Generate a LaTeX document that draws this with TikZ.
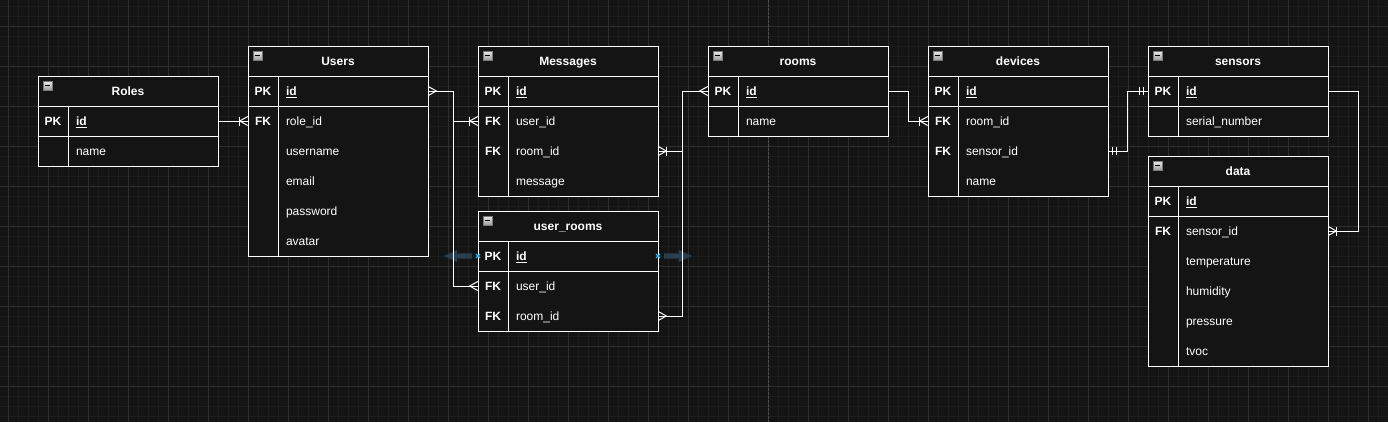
\documentclass[tikz,border=0pt]{standalone}
\usepackage{fontspec}
\setmainfont{Liberation Sans}
\definecolor{bgc}{RGB}{20,20,20}
\definecolor{minorc}{RGB}{29,29,29}
\definecolor{majorc}{RGB}{46,46,46}
\definecolor{pagec}{RGB}{78,78,78}
\definecolor{hoverc}{RGB}{38,64,80}
\definecolor{bluex}{RGB}{41,182,242}
\definecolor{iconframe}{RGB}{120,120,120}
\tikzset{
  txt/.style={font=\fontsize{9pt}{11pt}\selectfont, text=white, text height=8.4pt, text depth=1.9pt},
  tblbox/.style={draw=white, fill=bgc, line width=0.75pt, minimum width=135pt, inner sep=0pt},
  tblline/.style={draw=white, line width=0.75pt},
  hdr/.style={txt, font=\fontsize{9pt}{11pt}\selectfont\bfseries, inner sep=0pt},
  keycell/.style={txt, font=\fontsize{9pt}{11pt}\selectfont\bfseries, minimum width=22.5pt, minimum height=22.5pt, inner sep=0pt},
  fieldcell/.style={txt, text width=100.5pt, align=left, inner xsep=6pt, inner ysep=0pt, minimum height=22.5pt},
  pk/.style={font=\fontsize{9pt}{11pt}\selectfont\bfseries},
  plain/.style={},
  minusicon/.style={draw=iconframe, line width=0.6pt, minimum size=6.75pt, inner sep=0pt,
    top color=white!92!black, bottom color=white!62!black,
    path picture={\draw[black, line width=1.1pt] ([xshift=-2.1pt]path picture bounding box.center) -- ([xshift=2.1pt]path picture bounding box.center);}},
  conn/.style={draw=white, line width=0.75pt},
  hover/.style={fill=hoverc, draw=none},
  bx/.style={draw=bluex, line width=0.9pt},
}
% table frame: name, x, y, title, height(px)
\newcommand\ertable[5]{%
  \node[tblbox, minimum height={#5*0.75pt}, anchor=north west] (#1) at (#2,#3) {};
  \draw[tblline] (#2,#3+30) -- ++(180,0);
  \draw[tblline] (#2,#3+60) -- ++(180,0);
  \draw[tblline] (#2+30,#3+30) -- (#2+30,#3+#5);
  \node[hdr] (#1-h) at (#2+90,#3+15) {#4};
  \node[minusicon] (#1-icon) at (#2+9.5,#3+9.5) {};
}
% row: name, x, y(top), key, field, style
\newcommand\errow[6]{%
  \node[keycell] (#1-k) at (#2+15,#3+15) {#4};
  \node[fieldcell,#6] (#1) at (#2+105,#3+15) {#5};
}
% markers: point, direction away from entity (1 or -1)
\newcommand\ermany[2]{\begin{scope}[shift={(#1)},xscale=#2]\draw[conn] (0,-4.5) -- (8,0) -- (0,4.5);\end{scope}}
\newcommand\eronemany[2]{\begin{scope}[shift={(#1)},xscale=#2]\draw[conn] (0,-4.5) -- (8,0) -- (0,4.5);\draw[conn] (8,-4.5) -- (8,4.5);\end{scope}}
\newcommand\ermandone[2]{\begin{scope}[shift={(#1)},xscale=#2]\draw[conn] (4,-4) -- (4,4);\draw[conn] (8,-4) -- (8,4);\end{scope}}
\begin{document}
\begin{tikzpicture}[x=0.75pt,y=-0.75pt]
\useasboundingbox (0,0) rectangle (1388,422);
\fill[bgc] (0,0) rectangle (1388,422);
% grid
\foreach \gx in {8,18,...,1388} \draw[minorc, line width=0.75pt] (\gx,0) -- (\gx,422);
\foreach \gy in {6,16,...,416} \draw[minorc, line width=0.75pt] (0,\gy) -- (1388,\gy);
\foreach \gx in {8,48,...,1388} \draw[majorc, line width=0.75pt] (\gx,0) -- (\gx,422);
\foreach \gy in {26,66,...,416} \draw[majorc, line width=0.75pt] (0,\gy) -- (1388,\gy);
\draw[pagec, line width=0.75pt, dash pattern=on 2.25pt off 0.75pt] (768,0) -- (768,422);
% hover arrows
\fill[hover] (444,256) -- (457,250) -- (457,253.3) -- (472,253.3) -- (472,258.7) -- (457,258.7) -- (457,262) -- cycle;
\fill[hover] (692,256) -- (679,250) -- (679,253.3) -- (664,253.3) -- (664,258.7) -- (679,258.7) -- (679,262) -- cycle;

% Roles
\ertable{roles}{38}{76}{Roles}{90}
\errow{roles-id}{38}{106}{PK}{\underline{id}}{pk}
\errow{roles-name}{38}{136}{}{name}{plain}
% Users
\ertable{users}{248}{46}{Users}{210}
\errow{users-id}{248}{76}{PK}{\underline{id}}{pk}
\errow{users-roleid}{248}{106}{FK}{role\_id}{plain}
\errow{users-username}{248}{136}{}{username}{plain}
\errow{users-email}{248}{166}{}{email}{plain}
\errow{users-password}{248}{196}{}{password}{plain}
\errow{users-avatar}{248}{226}{}{avatar}{plain}
% Messages
\ertable{msg}{478}{46}{Messages}{150}
\errow{msg-id}{478}{76}{PK}{\underline{id}}{pk}
\errow{msg-userid}{478}{106}{FK}{user\_id}{plain}
\errow{msg-roomid}{478}{136}{FK}{room\_id}{plain}
\errow{msg-message}{478}{166}{}{message}{plain}
% user_rooms
\ertable{ur}{478}{211}{user\_rooms}{120}
\errow{ur-id}{478}{241}{PK}{\underline{id}}{pk}
\errow{ur-userid}{478}{271}{FK}{user\_id}{plain}
\errow{ur-roomid}{478}{301}{FK}{room\_id}{plain}
% rooms
\ertable{rooms}{708}{46}{rooms}{90}
\errow{rooms-id}{708}{76}{PK}{\underline{id}}{pk}
\errow{rooms-name}{708}{106}{}{name}{plain}
% devices
\ertable{dev}{928}{46}{devices}{150}
\errow{dev-id}{928}{76}{PK}{\underline{id}}{pk}
\errow{dev-roomid}{928}{106}{FK}{room\_id}{plain}
\errow{dev-sensorid}{928}{136}{FK}{sensor\_id}{plain}
\errow{dev-name}{928}{166}{}{name}{plain}
% sensors
\ertable{sens}{1148}{46}{sensors}{90}
\errow{sens-id}{1148}{76}{PK}{\underline{id}}{pk}
\errow{sens-serial}{1148}{106}{}{serial\_number}{plain}
% data
\ertable{data}{1148}{156}{data}{210}
\errow{data-id}{1148}{186}{PK}{\underline{id}}{pk}
\errow{data-sensorid}{1148}{216}{FK}{sensor\_id}{plain}
\errow{data-temp}{1148}{246}{}{temperature}{plain}
\errow{data-hum}{1148}{276}{}{humidity}{plain}
\errow{data-press}{1148}{306}{}{pressure}{plain}
\errow{data-tvoc}{1148}{336}{}{tvoc}{plain}

% connectors
\draw[conn] (roles-id.east) -- (users-roleid-k.west);
\eronemany{users-roleid-k.west}{-1}
\draw[conn] (users-id.east) -- ++(25,0) |- (msg-userid-k.west);
\draw[conn] (users-id.east) -- ++(25,0) |- (ur-userid-k.west);
\ermany{users-id.east}{1}
\eronemany{msg-userid-k.west}{-1}
\ermany{ur-userid-k.west}{-1}
\draw[conn] (rooms-id-k.west) -- ++(-25,0) |- (ur-roomid.east);
\draw[conn] (rooms-id-k.west) -- ++(-25,0) |- (msg-roomid.east);
\ermany{rooms-id-k.west}{-1}
\ermany{ur-roomid.east}{1}
\eronemany{msg-roomid.east}{1}
\draw[conn] (rooms-id.east) -- ++(20,0) |- (dev-roomid-k.west);
\eronemany{dev-roomid-k.west}{-1}
\draw[conn] (sens-id-k.west) -- ++(-20,0) |- (dev-sensorid.east);
\ermandone{sens-id-k.west}{-1}
\ermandone{dev-sensorid.east}{1}
\draw[conn] (sens-id.east) -- ++(30,0) |- (data-sensorid.east);
\eronemany{data-sensorid.east}{1}

% blue connection marks
\draw[bx] (476,254) -- (480,258) (476,258) -- (480,254);
\draw[bx] (656,254) -- (660,258) (656,258) -- (660,254);
\end{tikzpicture}
\end{document}
